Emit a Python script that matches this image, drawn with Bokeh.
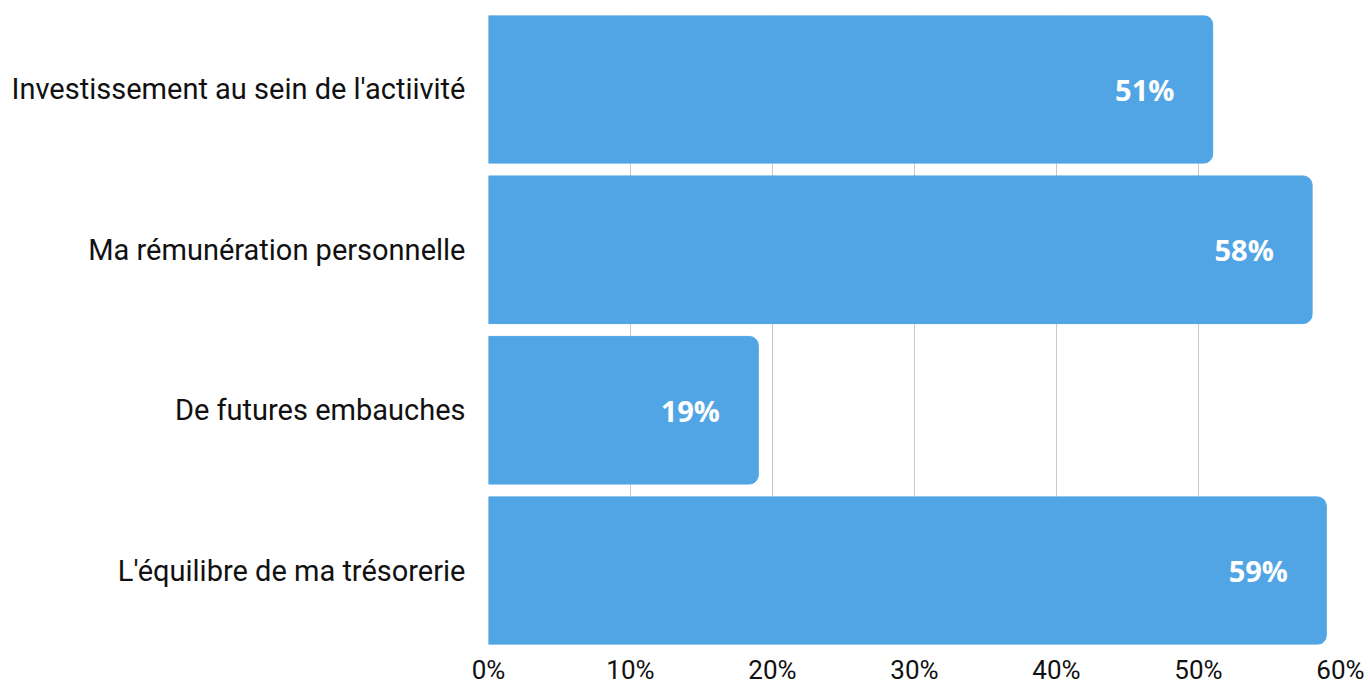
from bokeh.plotting import figure
from bokeh.models import ColumnDataSource, FixedTicker, Range1d, CustomJSTickFormatter
from bokeh.core.properties import value
from bokeh.embed import file_html
from bokeh.resources import INLINE

categories = ["Investissement au sein de l'actiivité", "Ma rémunération personnelle",
              "De futures embauches", "L'équilibre de ma trésorerie"]
values = [51, 58, 19, 59]
x_ticks = [0, 10, 20, 30, 40, 50, 60]

pos = list(range(len(categories)))
src = ColumnDataSource(dict(
    y=pos, v=values,
    lx=[v - 2.7 for v in values],
    lab=[f"{v}%" for v in values],
))

p = figure(width=1366, height=687, output_backend="svg", toolbar_location=None,
           x_range=Range1d(0, 60), y_range=Range1d(len(categories) - 0.54, -0.46),
           min_border_left=488, min_border_right=26, min_border_top=15, min_border_bottom=42)
p.outline_line_color = None
p.background_fill_color = "white"

p.hbar(y="y", left=0, right="v", height=0.92, source=src, color="#51A5E5",
       border_radius=(0, 9, 9, 0))
p.text(x="lx", y="y", text="lab", source=src, text_color="white",
       text_font=value("Open Sans"), text_font_style="bold", text_font_size="29px",
       text_align="right", text_baseline="middle")

p.xaxis.ticker = FixedTicker(ticks=x_ticks)
p.xaxis.formatter = CustomJSTickFormatter(code="return tick + '%';")
p.xaxis.axis_line_color = None
p.xaxis.major_tick_line_color = None
p.xaxis.minor_tick_line_color = None
p.xaxis.major_label_text_font = "Roboto"
p.xaxis.major_label_text_font_size = "26px"
p.xaxis.major_label_text_color = "#111111"
p.xaxis.major_label_standoff = 4

p.yaxis.ticker = FixedTicker(ticks=pos)
p.yaxis.major_label_overrides = {i: c for i, c in enumerate(categories)}
p.yaxis.axis_line_color = None
p.yaxis.major_tick_line_color = None
p.yaxis.minor_tick_line_color = None
p.yaxis.major_label_text_font = "Roboto"
p.yaxis.major_label_text_font_size = "29px"
p.yaxis.major_label_text_color = "#111111"
p.yaxis.major_label_standoff = 17

p.xgrid.grid_line_color = "#c8c8c8"
p.xgrid.grid_line_width = 1
p.ygrid.grid_line_color = None

open("out.html", "w").write(file_html(p, INLINE))
